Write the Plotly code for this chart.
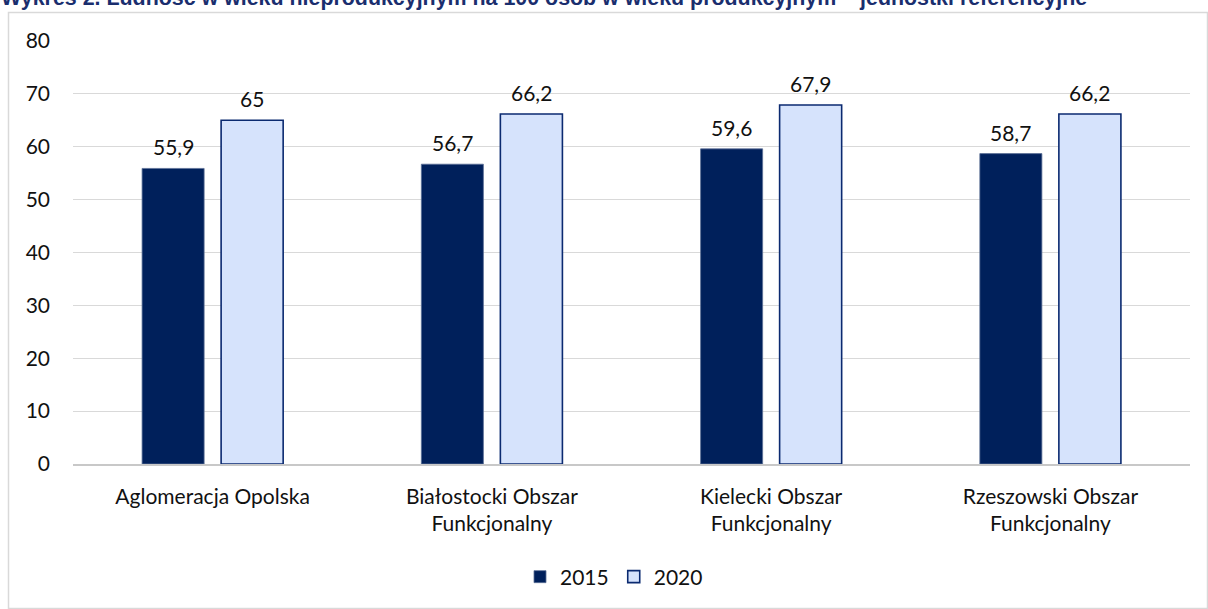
import plotly.graph_objects as go

categories = ["Aglomeracja Opolska", "Białostocki Obszar<br>Funkcjonalny",
              "Kielecki Obszar<br>Funkcjonalny", "Rzeszowski Obszar<br>Funkcjonalny"]
series_names = ["2015", "2020"]
values_2015 = [55.9, 56.7, 59.6, 58.7]
values_2020 = [65, 66.2, 67.9, 66.2]
y_ticks = [0, 10, 20, 30, 40, 50, 60, 70, 80]
title_text = "Wykres 2. Ludność w wieku nieprodukcyjnym na 100 osób w wieku produkcyjnym – jednostki referencyjne"

FONT = "Lato, Carlito, Calibri, sans-serif"
FS = 21
W, H = 1208, 609
L, R, T, B = 73, 18, 41, 145
pw, ph = W - L - R, H - T - B


def fmt(v):
    return f"{v:g}".replace(".", ",")


def px_x(p):
    return (p - L) / pw


def px_y(p):
    return (H - B - p) / ph


fig = go.Figure()
fig.add_trace(go.Bar(name=series_names[0], x=categories, y=values_2015,
                     marker=dict(color="#00205B", line=dict(color="#5A6E95", width=0.8))))
fig.add_trace(go.Bar(name=series_names[1], x=categories, y=values_2020,
                     marker=dict(color="#D6E3FC", line=dict(color="#0B2A70", width=1.6))))

annotations = []
offset = 39.5
for vals, sh in ((values_2015, -offset), (values_2020, offset)):
    for c, v in zip(categories, vals):
        annotations.append(dict(x=c, y=v, xref="x", yref="y", text=fmt(v), showarrow=False,
                                xshift=sh, yshift=7, yanchor="bottom",
                                font=dict(family=FONT, size=FS, color="#111111")))

annotations.append(dict(x=px_x(0), y=px_y(11), xref="paper", yref="paper",
                        text="<b>" + title_text + "</b>", showarrow=False,
                        xanchor="left", yanchor="bottom", borderpad=0,
                        font=dict(family="Liberation Sans, Arial, sans-serif", size=21.4, color="#1A2E6E")))

shapes = [dict(type="rect", xref="paper", yref="paper",
               x0=px_x(8.5), x1=px_x(1207.5), y0=px_y(608.5), y1=px_y(12.5),
               line=dict(color="#D9D9D9", width=1.5), fillcolor="rgba(0,0,0,0)", layer="below")]

fig.update_layout(
    width=W, height=H,
    margin=dict(l=L, r=R, t=T, b=B, pad=0, autoexpand=False),
    paper_bgcolor="white", plot_bgcolor="white",
    barmode="group", bargap=0.434, bargroupgap=0.215,
    font=dict(family=FONT, size=FS, color="#111111"),
    showlegend=True,
    legend=dict(orientation="h", x=px_x(614), xanchor="center", y=px_y(577), yanchor="middle",
                font=dict(family=FONT, size=FS, color="#111111"), traceorder="normal"),
    annotations=annotations,
    shapes=shapes,
)
fig.update_yaxes(range=[0, 80], tickvals=y_ticks, showgrid=True, gridcolor="#D9D9D9", gridwidth=1.2,
                 zeroline=False, showline=False, ticks="", ticklabelstandoff=22,
                 tickfont=dict(family=FONT, size=FS, color="#111111"))
fig.update_xaxes(showline=True, linecolor="#C8C8C8", linewidth=1.5, ticks="", ticklabelstandoff=13,
                 tickfont=dict(family=FONT, size=FS, color="#111111"))

fig.write_html("out.html", config={"displayModeBar": False},
               post_script="document.body.style.margin='0';document.body.style.overflow='hidden';")
